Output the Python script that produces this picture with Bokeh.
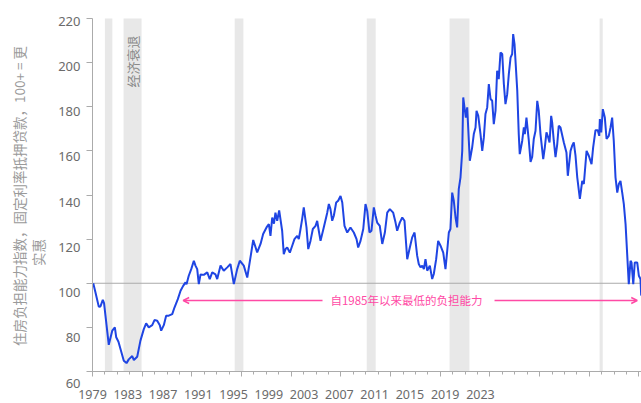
from math import pi
from bokeh.plotting import figure
from bokeh.models import (Range1d, FixedTicker, BoxAnnotation, Label, LabelSet,
                          ColumnDataSource, Arrow, OpenHead)
from bokeh.core.properties import value
from bokeh.embed import file_html
from bokeh.resources import INLINE

# ---------------- data ----------------
years = [
    1979.06, 1979.24, 1979.51, 1979.64, 1979.83, 1979.93, 1980.31, 1980.59, 1980.80, 1980.91,
    1981.09, 1981.52, 1981.74, 1981.92, 1982.20, 1982.33, 1982.60, 1982.86, 1983.13, 1983.32,
    1983.53, 1983.81, 1983.99, 1984.21, 1984.42, 1984.53, 1984.74, 1984.93, 1985.14, 1985.42,
    1985.60, 1985.87, 1986.09, 1986.30, 1986.49, 1986.57, 1986.75, 1986.95, 1987.16, 1987.29,
    1987.43, 1987.56, 1987.70, 1987.96, 1988.24, 1988.44, 1988.64, 1988.90, 1989.04, 1989.31,
    1989.57, 1989.85, 1990.11, 1990.38, 1990.65, 1990.86, 1991.18, 1991.46, 1991.72, 1991.94,
    1992.26, 1992.53, 1992.74, 1993.01, 1993.20, 1993.33, 1993.47, 1993.61, 1993.73, 1993.87,
    1994.03, 1994.27, 1994.40, 1994.54, 1994.68, 1994.89, 1995.08, 1995.26, 1995.48, 1995.61,
    1995.75, 1995.88, 1996.01, 1996.23, 1996.37, 1996.55, 1996.74, 1996.96, 1997.09, 1997.22,
    1997.36, 1997.62, 1997.90, 1998.03, 1998.16, 1998.30, 1998.43, 1998.62, 1998.78, 1998.97,
    1999.11, 1999.29, 1999.51, 1999.77, 2000.04, 2000.26, 2000.39, 2000.58, 2000.80, 2000.98,
    2001.12, 2001.30, 2001.46, 2001.65, 2001.79, 2001.92, 2002.13, 2002.33, 2002.54, 2002.73,
    2002.94, 2003.21, 2003.40, 2003.53, 2003.74, 2003.94, 2004.12, 2004.34, 2004.55, 2004.74,
    2004.93, 2005.14, 2005.27, 2005.41, 2005.55, 2005.68, 2005.81, 2005.95, 2006.16, 2006.35,
    2006.48, 2006.67, 2006.83, 2007.02, 2007.24, 2007.42, 2007.56, 2007.69, 2007.82, 2007.96,
    2008.09, 2008.23, 2008.36, 2008.49, 2008.63, 2008.77, 2008.85, 2008.95, 2009.06, 2009.17,
    2009.30, 2009.38, 2009.57, 2009.70, 2009.84, 2009.92, 2010.06, 2010.24, 2010.38, 2010.51,
    2010.64, 2010.78, 2010.91, 2011.05, 2011.18, 2011.31, 2011.45, 2011.58, 2011.71, 2011.85,
    2011.99, 2012.12, 2012.25, 2012.39, 2012.52, 2012.66, 2012.79, 2012.87, 2012.98, 2013.20,
    2013.32, 2013.40, 2013.60, 2013.73, 2013.81, 2013.94, 2014.13, 2014.27, 2014.40, 2014.53,
    2014.67, 2014.81, 2014.93, 2015.07, 2015.29, 2015.42, 2015.55, 2015.69, 2015.80, 2015.93,
    2016.01, 2016.14, 2016.28, 2016.42, 2016.54, 2016.68, 2016.95, 2017.16, 2017.27, 2017.49,
    2017.62, 2017.75, 2017.89, 2018.03, 2018.24, 2018.43, 2018.56, 2018.78, 2018.96, 2019.18,
    2019.31, 2019.50, 2019.68, 2019.80, 2019.85, 2019.96, 2020.09, 2020.25, 2020.39, 2020.57,
    2020.71, 2020.84, 2020.97, 2021.11, 2021.25, 2021.38, 2021.51, 2021.65, 2021.78, 2021.92,
    2022.05, 2022.18, 2022.32, 2022.40, 2022.54, 2022.66, 2022.86, 2022.99, 2023.12, 2023.18,
]
affordability = [
    100.0, 95.8, 89.3, 89.5, 92.5, 91.0, 72.1, 78.5, 80.0, 75.5,
    73.5, 64.9, 63.8, 65.5, 67.0, 65.2, 66.7, 74.0, 79.2, 81.8,
    80.0, 81.0, 83.3, 83.0, 81.0, 78.5, 81.0, 85.3, 85.3, 86.0,
    89.0, 92.8, 96.6, 98.8, 100.4, 99.5, 103.4, 106.4, 110.2, 108.0,
    106.4, 99.6, 104.0, 103.8, 104.9, 101.9, 104.9, 104.0, 101.9, 108.0,
    105.7, 107.2, 108.7, 99.6, 106.4, 110.2, 108.0, 102.6, 111.7, 119.6,
    114.0, 117.8, 122.3, 125.3, 126.8, 121.5, 129.8, 127.0, 132.0, 128.3,
    133.0, 123.8, 113.2, 115.5, 116.2, 113.9, 117.0, 120.0, 121.5, 120.0,
    124.6, 129.1, 134.4, 125.3, 115.5, 119.2, 124.6, 126.0, 128.3, 123.8,
    119.2, 125.3, 132.0, 135.9, 133.6, 128.3, 130.6, 136.6, 137.4, 139.6,
    136.6, 126.0, 123.0, 125.3, 123.0, 120.0, 116.2, 119.2, 124.6, 135.9,
    132.8, 123.0, 123.8, 134.4, 130.6, 127.5, 126.0, 117.8, 123.0, 132.0,
    133.6, 132.0, 127.5, 123.8, 127.5, 129.8, 128.3, 110.9, 116.2, 120.8,
    123.0, 112.5, 108.7, 107.2, 108.0, 106.4, 110.9, 105.7, 108.0, 101.9,
    104.2, 110.9, 119.2, 117.0, 113.9, 106.4, 114.7, 123.0, 124.6, 141.1,
    137.4, 129.8, 125.3, 142.7, 148.0, 160.0, 184.2, 179.7, 175.1, 179.7,
    164.6, 155.5, 161.6, 167.6, 170.6, 178.2, 175.9, 167.6, 160.0, 166.1,
    176.7, 179.7, 190.3, 183.5, 182.7, 172.1, 178.2, 196.3, 192.5, 204.6,
    203.9, 190.3, 181.2, 185.7, 194.8, 202.3, 203.9, 212.9, 208.4, 187.2,
    167.6, 158.5, 164.6, 170.6, 167.6, 175.1, 164.6, 155.0, 157.2, 165.4,
    169.1, 182.7, 178.2, 167.6, 156.3, 161.6, 168.4, 166.1, 163.8, 175.9,
    172.9, 164.6, 157.2, 163.1, 171.4, 170.6, 163.8, 159.3, 148.7, 160.0,
    162.3, 163.8, 157.8, 148.0, 138.2, 146.4, 145.0, 160.0, 157.8, 154.0,
    161.6, 169.4, 169.4, 166.8, 174.4, 168.4, 178.9, 175.1, 165.4, 166.8,
    170.6, 175.1, 164.6, 148.0, 141.1, 145.0, 146.4, 141.1, 135.9, 126.8,
    113.2, 99.6, 110.2, 109.4, 99.6, 109.4, 109.4, 103.4, 101.9, 94.4,
]
recession_start = [1980.0, 1981.5, 1990.45, 2001.08, 2007.75, 2019.83]
recession_end = [1980.6, 1982.95, 1991.15, 2001.8, 2009.35, 2020.08]

x_tick_years = [1979, 1983, 1987, 1991, 1995, 1999, 2003, 2007, 2011, 2015, 2019, 2023]
x_tick_labels = ["1979", "1983", "1987", "1991", "1995", "1999", "2003", "2007",
                 "2011", "2015", "2019", "2023"]
x_minor_years = list(range(1979, 2024))
y_ticks = [60, 80, 100, 120, 140, 160, 180, 200, 220]
y_tick_labels = ["60", "80", "100", "120", "140", "160", "180", "200", "220"]

reference_level = 100
note_level = 92.2
note_text = "自1985年以来最低的负担能力"
note_left = [1997.52, 1986.30]
note_right = [2011.37, 2022.86]
note_center = 2004.28
recession_text = "经济衰退"
y_title_1 = "住房负担能力指数，固定利率抵押贷款，100+ = 更"
y_title_2 = "实惠"

# ---------------- layout / styles ----------------
W, H = 641, 403
AX_LEFT, AX_TOP, AX_BOTTOM = 92, 18, 371          # pixel positions of the axes box
X_START, Y_MIN, Y_MAX = 1979, 60, 220
PX_PER_YEAR = 12.42
PX_PER_UNIT = (AX_BOTTOM - AX_TOP) / (Y_MAX - Y_MIN)
# the reference lays its tick label texts out on a slightly different spacing
LAB_PX_PER_YEAR = 8.8175
LAB_Y_TOP, LAB_PX_PER_UNIT = 20.7, 2.2625

BLUE = "#1f45e3"
PINK = "#ff4aa5"
AXIS = "#ababab"
TICK_TXT = "#6b6b6b"
TITLE_TXT = "#9a9a9a"
BAND = "#e8e8e8"
CJK = "Noto Sans CJK SC"
LAT = "Noto Sans"

x0 = X_START - AX_LEFT / PX_PER_YEAR
x1 = X_START + (W - AX_LEFT) / PX_PER_YEAR
y1 = Y_MAX + AX_TOP / PX_PER_UNIT
y0 = Y_MAX - (H - AX_TOP) / PX_PER_UNIT

p = figure(width=W, height=H, output_backend="svg", toolbar_location=None,
           x_range=Range1d(x0, x1), y_range=Range1d(y0, y1),
           min_border=0, background_fill_color="white", border_fill_color="white")
p.outline_line_color = None
p.grid.visible = False

p.extra_x_ranges = {"xlab": Range1d(X_START - AX_LEFT / LAB_PX_PER_YEAR,
                                    X_START + (W - AX_LEFT) / LAB_PX_PER_YEAR)}
p.extra_y_ranges = {"ylab": Range1d(Y_MAX - (H - LAB_Y_TOP) / LAB_PX_PER_UNIT,
                                    Y_MAX + LAB_Y_TOP / LAB_PX_PER_UNIT)}

# axes drawn inside the frame at fixed locations
xa = p.xaxis[0]
xa.fixed_location = Y_MIN
xa.bounds = (X_START, x1)
xa.ticker = FixedTicker(ticks=x_tick_years, minor_ticks=x_minor_years)
xa.major_label_overrides = {t: "" for t in x_tick_years}
xa.axis_line_color = AXIS
xa.major_tick_line_color = AXIS
xa.minor_tick_line_color = AXIS
xa.major_tick_out = 5
xa.major_tick_in = 0
xa.minor_tick_out = 3
xa.minor_tick_in = 0

ya = p.yaxis[0]
ya.fixed_location = X_START
ya.bounds = (Y_MIN, Y_MAX)
ya.ticker = FixedTicker(ticks=y_ticks)
ya.major_label_overrides = {t: "" for t in y_ticks}
ya.axis_line_color = AXIS
ya.major_tick_line_color = AXIS
ya.minor_tick_line_color = None
ya.major_tick_out = 6
ya.major_tick_in = 0

# recession bands
for a, b in zip(recession_start, recession_end):
    p.add_layout(BoxAnnotation(left=a, right=b, bottom=Y_MIN, top=Y_MAX, fill_color=BAND,
                               fill_alpha=1.0, line_color=None, level="underlay"))

p.segment(x0=[X_START], x1=[x1], y0=[reference_level], y1=[reference_level],
          line_color=AXIS, line_width=1)

p.line(years, affordability, line_color=BLUE, line_width=2)

# tick label texts
lab_y = Y_MIN - 23 / PX_PER_UNIT
xsrc = ColumnDataSource(dict(x=x_tick_years, y=[lab_y] * len(x_tick_years), text=x_tick_labels))
p.add_layout(LabelSet(x="x", y="y", text="text", source=xsrc, x_range_name="xlab",
                      text_align="center", text_baseline="middle",
                      text_font=value(LAT), text_font_size="12.5px", text_color=TICK_TXT))
ysrc = ColumnDataSource(dict(x=[X_START] * len(y_ticks), y=y_ticks, text=y_tick_labels))
p.add_layout(LabelSet(x="x", y="y", text="text", source=ysrc, y_range_name="ylab",
                      x_offset=-12, text_align="right", text_baseline="middle",
                      text_font=value(LAT), text_font_size="13px", text_color=TICK_TXT))

# y axis title (two lines)
p.add_layout(Label(x=X_START, y=Y_MAX - (195.5 - AX_TOP) / PX_PER_UNIT, x_offset=-74,
                   text=y_title_1, angle=pi / 2, text_align="center", text_baseline="middle",
                   text_font=CJK, text_font_size="13.5px", text_color=TITLE_TXT))
p.add_layout(Label(x=X_START, y=Y_MAX - (252 - AX_TOP) / PX_PER_UNIT, x_offset=-55,
                   text=y_title_2, angle=pi / 2, text_align="center", text_baseline="middle",
                   text_font=CJK, text_font_size="13.5px", text_color=TITLE_TXT))

# recession label
p.add_layout(Label(x=(recession_start[1] + recession_end[1]) / 2, y=212.3,
                   text=recession_text, angle=pi / 2, text_align="right",
                   text_baseline="middle", text_font=CJK, text_font_size="13px",
                   text_color="#8a8a8a"))

# pink annotation
for xs, xe in (note_left, note_right):
    p.add_layout(Arrow(x_start=xs, y_start=note_level, x_end=xe, y_end=note_level,
                       line_color=PINK, line_width=1.5,
                       end=OpenHead(size=6, line_color=PINK, line_width=1.5)))
p.add_layout(Label(x=note_center, y=note_level, text=note_text, text_align="center",
                   text_baseline="middle", text_font=CJK, text_font_size="11.5px",
                   text_color=PINK))

open("out.html", "w").write(file_html(p, INLINE))
